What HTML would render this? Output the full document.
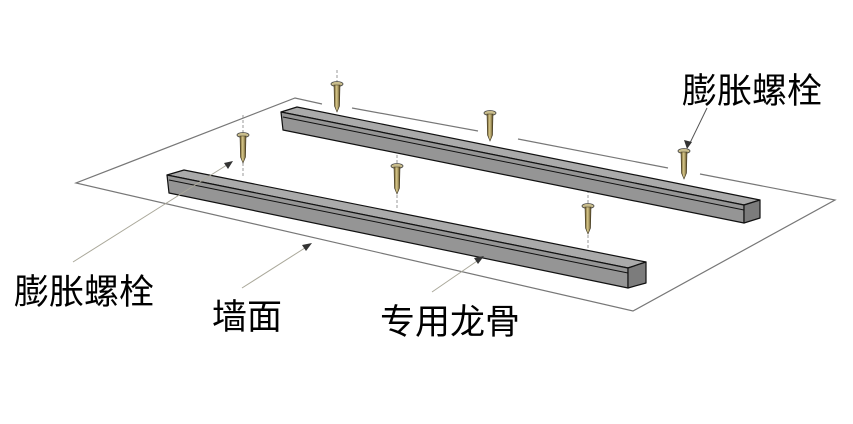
<!DOCTYPE html>
<html><head><meta charset="utf-8"><style>
html,body{margin:0;padding:0;background:#fff;}
svg{display:block}
text{font-family:"Liberation Sans","Noto Sans CJK SC",sans-serif;fill:#000;}
</style></head><body>
<svg width="853" height="424" viewBox="0 0 853 424" xmlns="http://www.w3.org/2000/svg">
<defs>
<linearGradient id="br" x1="0" x2="1" y1="0" y2="0">
<stop offset="0" stop-color="#6b5a2a"/><stop offset="0.45" stop-color="#d8c88a"/><stop offset="1" stop-color="#5c4c22"/>
</linearGradient>
<g id="screw">
<ellipse cx="0" cy="0" rx="6" ry="2.5" fill="#c9bd8c" stroke="#444" stroke-width="0.8"/>
<path d="M-3,1 L3,1 L2.5,22 L0,28 L-2.5,22 Z" fill="url(#br)" stroke="#3a3220" stroke-width="0.6"/>
</g>
</defs>
<!-- plate -->
<g stroke="#777" stroke-width="1.2" fill="none">
<polyline points="322,104 295,98 76,183 633,311 835,200 700,174"/>
<line x1="352" y1="108" x2="478" y2="131"/>
<line x1="518" y1="139" x2="668" y2="168"/>
</g>
<!-- dashed guides -->
<g stroke="#999" stroke-width="1" stroke-dasharray="3,2">
<line x1="243" y1="115" x2="243" y2="133"/><line x1="243" y1="163" x2="243" y2="178"/>
<line x1="397" y1="195" x2="397" y2="210"/><line x1="397" y1="145" x2="397" y2="163"/>
<line x1="588" y1="235" x2="588" y2="250"/><line x1="588" y1="185" x2="588" y2="203"/>
<line x1="337" y1="70" x2="337" y2="82"/>
</g>
<!-- back bar -->
<g stroke="#111" stroke-width="1.2" stroke-linejoin="round">
<polygon points="281,112 297,107 760,200 744,205" fill="#aaaaaa"/>
<polygon points="281,112 744,205 744,223 283,130" fill="#959595"/>
<polygon points="744,205 760,200 760,218 744,223" fill="#7c7c7c"/>
<line x1="283" y1="117" x2="744" y2="210" stroke-width="1"/>
</g>
<!-- front bar -->
<g stroke="#111" stroke-width="1.2" stroke-linejoin="round">
<polygon points="167,175 184,170 646,262 628,268" fill="#aaaaaa"/>
<polygon points="167,175 628,268 628,288 169,193" fill="#959595"/>
<polygon points="628,268 646,262 646,283 628,288" fill="#7c7c7c"/>
<line x1="169" y1="180" x2="628" y2="273" stroke-width="1"/>
</g>
<!-- screws -->
<use href="#screw" x="337" y="84"/>
<use href="#screw" x="490" y="113"/>
<use href="#screw" x="684" y="151"/>
<use href="#screw" x="243" y="135"/>
<use href="#screw" x="397" y="166"/>
<use href="#screw" x="588" y="206"/>
<!-- leader lines -->
<g stroke="#aaa89a" stroke-width="1" fill="#333">
<line x1="73" y1="262" x2="230" y2="163"/>
<polygon points="233,161 224,163 228,169" stroke="none"/>
<line x1="242" y1="288" x2="308" y2="246"/>
<polygon points="312,243 302,245 306,251" stroke="none"/>
<line x1="432" y1="292" x2="480" y2="259"/>
<polygon points="484,256 474,258 478,264" stroke="none"/>
<line x1="707" y1="108" x2="689" y2="145" stroke="#555"/>
<polygon points="687,149 684,140 692,142" stroke="none"/>
</g>
<!-- labels -->
<text x="682" y="103" font-size="35">膨胀螺栓</text>
<text x="14" y="304" font-size="35">膨胀螺栓</text>
<text x="212" y="329" font-size="35">墙面</text>
<text x="380" y="334" font-size="35">专用龙骨</text>
</svg>
</body></html>
